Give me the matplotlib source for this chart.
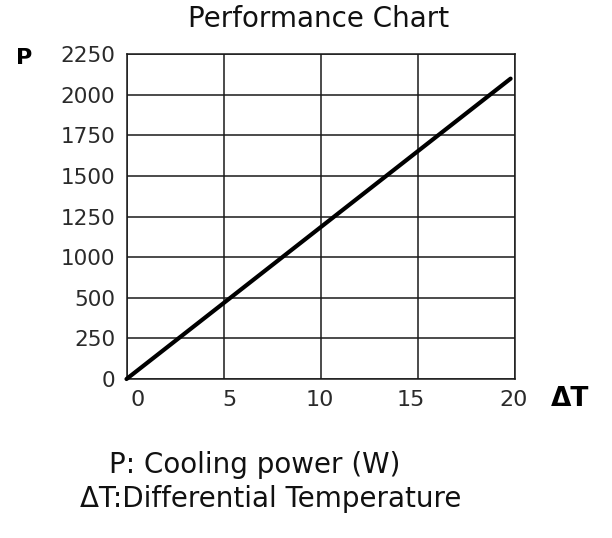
import numpy as np
import matplotlib
matplotlib.use('Agg')
import matplotlib.pyplot as plt

plt.rcParams['font.family'] = ['DejaVu Sans']

# data
delta_t = [0, 19.75]
power = [0, 2080]

x_grid = [0, 5, 10, 15, 20]
x_label_pos = [0.55, 5.3, 9.95, 14.6, 19.9]
x_labels = ['0', '5', '10', '15', '20']

y_grid = np.linspace(0, 2250, 9)
y_labels = ['0', '250', '500', '1000', '1250', '1500', '1750', '2000', '2250']

fig = plt.figure(figsize=(6.12, 5.38), dpi=100)
ax = fig.add_axes([0.2067, 0.2955, 0.6356, 0.604])

ax.set_xlim(0, 20)
ax.set_ylim(0, 2250)

# vertical grid on minor ticks, labels sit a bit off the lines
ax.set_xticks(x_grid, minor=True)
ax.set_xticks(x_label_pos)
ax.set_xticklabels(x_labels)
ax.xaxis.grid(True, which='minor', color='#1a1a1a', linewidth=1.1)
ax.set_yticks(y_grid)
ax.set_yticklabels(y_labels)
ax.yaxis.grid(True, which='major', color='#1a1a1a', linewidth=1.1)
ax.tick_params(which='both', length=0)
ax.tick_params(axis='x', pad=8, labelsize=16, labelcolor='#2a2a2a')
ax.tick_params(axis='y', pad=8, labelsize=15.5, labelcolor='#2a2a2a')

for s in ax.spines.values():
    s.set_color('#1a1a1a')
    s.set_linewidth(1.1)

ax.plot(delta_t, power, color='black', linewidth=3, solid_capstyle='round',
        clip_on=False, zorder=5)

fig.text(0.521, 0.964, 'Performance Chart', ha='center', va='center',
         fontsize=20, color='#111111')
fig.text(0.026, 0.893, 'P', ha='left', va='center', fontsize=16,
         fontweight='bold')
fig.text(0.900, 0.258, '\u0394T', ha='left', va='center', fontsize=19,
         fontweight='bold')
fig.text(0.178, 0.136, 'P: Cooling power (W)', ha='left', va='center',
         fontsize=20, color='#111111')
fig.text(0.131, 0.073, '\u0394T:Differential Temperature', ha='left',
         va='center', fontsize=20, color='#111111')

fig.savefig('out.png', dpi=100)
